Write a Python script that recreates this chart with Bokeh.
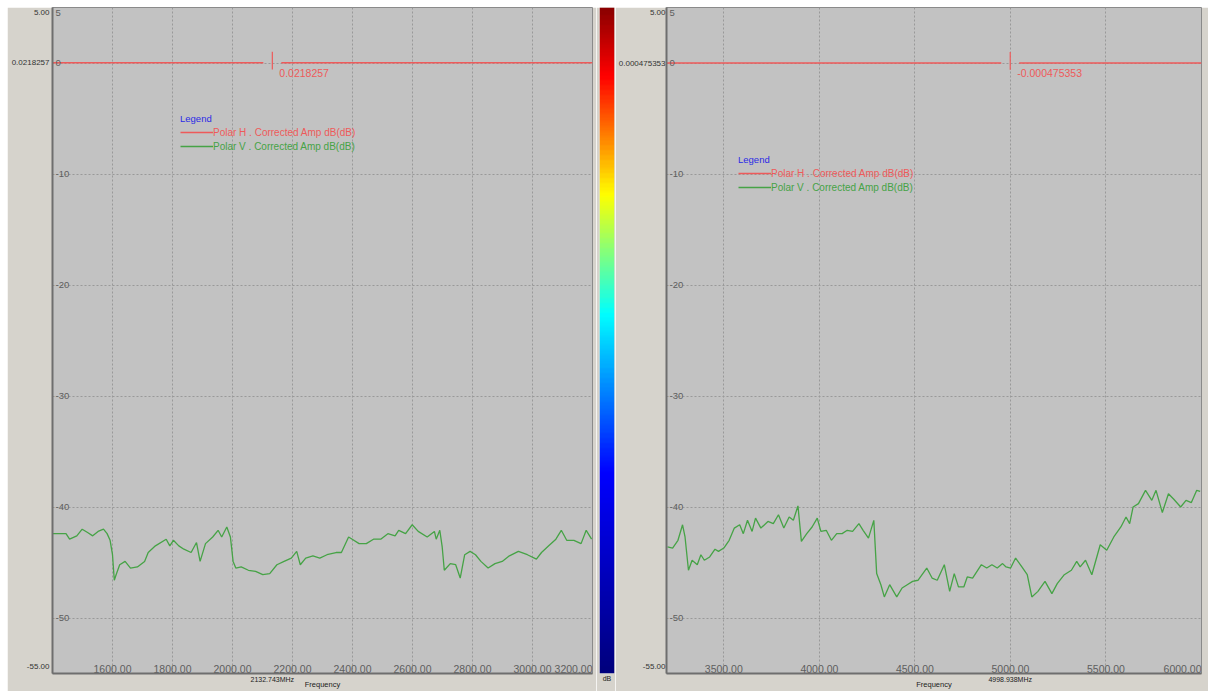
import numpy as np
from bokeh.plotting import figure
from bokeh.models import (Range1d, FixedTicker, Legend, LegendItem, LinearColorMapper,
                          ColumnDataSource, CustomJSTickFormatter, PrintfTickFormatter, Spacer)
from bokeh.layouts import row, column
from bokeh.embed import file_html
from bokeh.resources import INLINE
from bokeh.core.properties import value, field

# ---------------- data ----------------
left_freq = [1400, 1445, 1457, 1481, 1499, 1517, 1534, 1552, 1570, 1582, 1592, 1600, 1606, 1612,
             1624, 1642, 1660, 1683, 1707, 1719, 1743, 1779, 1791, 1803, 1821, 1838, 1862, 1880,
             1892, 1910, 1934, 1952, 1964, 1981, 1993, 2002, 2011, 2029, 2053, 2077, 2101, 2124,
             2148, 2172, 2196, 2214, 2226, 2244, 2268, 2291, 2315, 2345, 2363, 2387, 2399, 2422,
             2446, 2470, 2494, 2518, 2542, 2554, 2577, 2599, 2619, 2649, 2673, 2679, 2691, 2699,
             2706, 2726, 2744, 2759, 2774, 2792, 2810, 2828, 2852, 2875, 2899, 2923, 2953, 2983,
             3013, 3030, 3054, 3078, 3096, 3114, 3138, 3162, 3179, 3197]
left_polar_v = [-42.4, -42.4, -42.9, -42.6, -42.0, -42.3, -42.6, -42.2, -42.0, -42.4, -43.0, -44.3,
                -46.6, -46.1, -45.2, -44.9, -45.5, -45.4, -44.9, -44.1, -43.5, -42.9, -43.5, -43.0,
                -43.5, -43.8, -44.1, -43.2, -44.9, -43.3, -42.7, -42.1, -42.7, -41.8, -42.7, -44.9,
                -45.5, -45.4, -45.7, -45.8, -46.1, -46.0, -45.2, -44.9, -44.6, -44.0, -45.2, -44.6,
                -44.4, -44.6, -44.3, -44.1, -44.1, -42.7, -42.9, -43.3, -43.3, -42.9, -42.9, -42.4,
                -42.6, -42.1, -42.4, -41.6, -42.2, -42.7, -42.2, -42.9, -42.1, -43.6, -45.7, -45.1,
                -45.2, -46.4, -44.3, -44.0, -44.3, -44.9, -45.5, -45.1, -44.9, -44.4, -44.0, -44.3,
                -44.7, -44.1, -43.5, -42.9, -42.1, -43.0, -43.0, -43.3, -42.1, -42.9]
left_polar_h = 0.0218257
left_marker = 2132.743

right_freq = [3205, 3232, 3260, 3284, 3297, 3315, 3334, 3361, 3380, 3398, 3426, 3454, 3472, 3500,
              3528, 3555, 3583, 3602, 3624, 3648, 3666, 3694, 3731, 3759, 3786, 3814, 3842, 3864,
              3888, 3906, 3934, 3962, 3989, 4008, 4036, 4063, 4091, 4119, 4146, 4174, 4207, 4229,
              4257, 4285, 4300, 4322, 4340, 4368, 4405, 4433, 4460, 4488, 4516, 4562, 4590, 4617,
              4654, 4682, 4706, 4728, 4756, 4774, 4802, 4848, 4876, 4903, 4931, 4959, 4977, 5001,
              5027, 5060, 5088, 5112, 5144, 5181, 5217, 5245, 5282, 5319, 5347, 5365, 5393, 5426,
              5470, 5504, 5541, 5578, 5605, 5624, 5642, 5670, 5707, 5740, 5762, 5795, 5827, 5855,
              5891, 5919, 5947, 5975, 5993]
right_polar_v = [-43.6, -43.7, -43.0, -41.6, -42.7, -45.7, -44.8, -45.2, -44.3, -44.8, -44.5, -43.8,
                 -44.0, -43.7, -43.0, -41.9, -41.6, -42.4, -41.2, -42.2, -41.0, -41.9, -41.3, -41.5,
                 -40.7, -41.9, -40.9, -41.2, -39.9, -43.1, -42.4, -41.8, -41.0, -42.2, -42.1, -43.0,
                 -42.4, -42.4, -42.1, -42.2, -41.5, -42.1, -42.8, -41.2, -46.0, -47.0, -48.1, -47.0,
                 -48.1, -47.3, -47.0, -46.7, -46.6, -45.5, -46.4, -46.6, -45.2, -47.6, -46.0, -47.2,
                 -47.2, -46.3, -46.4, -45.2, -45.5, -45.2, -45.5, -45.1, -45.4, -45.5, -44.6, -45.4,
                 -46.1, -48.1, -47.6, -46.7, -47.8, -46.9, -46.1, -45.7, -44.9, -45.4, -44.8, -46.1,
                 -43.4, -43.9, -42.7, -41.8, -40.9, -41.5, -40.0, -39.7, -38.5, -39.4, -38.5, -40.5,
                 -38.8, -39.3, -40.0, -39.4, -39.6, -38.5, -38.6]
right_polar_h = -0.000475353
right_marker = 4998.938

left_xticks = [1600, 1800, 2000, 2200, 2400, 2600, 2800, 3000, 3200]
right_xticks = [3500, 4000, 4500, 5000, 5500, 6000]
yticks = [5, 0, -10, -20, -30, -40, -50]
y_limits = (-55, 5)
left_xlim = (1400, 3200)
right_xlim = (3200, 6000)

left_outer_labels = ["5.00", "0.0218257", "-55.00"]
right_outer_labels = ["5.00", "0.000475353", "-55.00"]
left_marker_text = "0.0218257"
right_marker_text = "-0.000475353"
name_h = "Polar H . Corrected Amp dB(dB)"
name_v = "Polar V . Corrected Amp dB(dB)"
axis_title = "Frequency"
colorbar_unit = "dB"

# ---------------- style ----------------
FONT = "Liberation Sans"
PLOT_BG = "#c2c2c2"
MARGIN_BG = "#d6d3cc"
RED = "#ee5a5a"
GREEN = "#46a346"
GRID = "#999999"
TICK_TXT = "#5e5e5e"
FIG_H = 684
BOTTOM = 14
FRAME_H = FIG_H - BOTTOM


def jet_palette(n=256):
    stops = [(0.0, (0, 0, 125)), (0.30, (0, 0, 255)), (0.42, (0, 128, 255)),
             (0.54, (0, 255, 255)), (0.63, (128, 255, 128)), (0.72, (255, 255, 0)),
             (0.80, (255, 140, 0)), (0.90, (255, 0, 0)), (1.0, (140, 0, 0))]
    pos = np.array([s[0] for s in stops])
    cols = np.array([s[1] for s in stops], dtype=float)
    out = []
    for ti in np.linspace(0, 1, n):
        r, g, b = (np.interp(ti, pos, cols[:, k]) for k in range(3))
        out.append("#%02x%02x%02x" % (int(r), int(g), int(b)))
    return out


NEAREST_JS = """
let best = 0; let d = Infinity;
for (let i = 0; i < vals.length; i++) {
  const e = Math.abs(vals[i] - tick);
  if (e < d) { d = e; best = i; }
}
return labels[best];
"""


def make_panel(freq, polar_v, polar_h, marker, marker_text, xlim, xticks, outer_labels,
               width, border_left, border_right, legend_left, legend_top, outer_standoff):
    p = figure(width=width, height=FIG_H, output_backend="svg", toolbar_location=None,
               x_range=Range1d(*xlim), y_range=Range1d(*y_limits),
               min_border_left=border_left, min_border_right=border_right,
               min_border_top=0, min_border_bottom=BOTTOM)
    p.background_fill_color = PLOT_BG
    p.border_fill_color = MARGIN_BG
    p.outline_line_color = "#8a8a8a"

    px_per_unit = FRAME_H / (y_limits[1] - y_limits[0])
    # outer labels on the left axis: top edge, Polar H level, bottom edge
    outer_pos = [y_limits[1] - 5.5 / px_per_unit, polar_h, y_limits[0] + 7 / px_per_unit]
    yax = p.yaxis[0]
    yax.ticker = FixedTicker(ticks=outer_pos)
    yax.formatter = CustomJSTickFormatter(args=dict(vals=outer_pos, labels=outer_labels),
                                          code=NEAREST_JS)
    yax.major_label_text_font = FONT
    yax.major_label_text_font_size = "8px"
    yax.major_label_text_color = "#333333"
    yax.major_label_standoff = outer_standoff

    # bottom axis: marker frequency and axis title
    xax = p.xaxis[0]
    xax.ticker = FixedTicker(ticks=[marker])
    xax.formatter = PrintfTickFormatter(format="%.3fMHz")
    xax.major_label_text_font = FONT
    xax.major_label_text_font_size = "7px"
    xax.major_label_text_color = "#222222"
    xax.major_label_standoff = 2
    xax.axis_label = axis_title
    xax.axis_label_text_font = FONT
    xax.axis_label_text_font_size = "7.5px"
    xax.axis_label_text_font_style = "normal"
    xax.axis_label_text_color = "#222222"
    xax.axis_label_standoff = -6

    for ax in (xax, yax):
        ax.major_tick_line_color = None
        ax.major_tick_out = 0
        ax.major_tick_in = 0
        ax.minor_tick_line_color = None
        ax.minor_tick_out = 0
        ax.axis_line_color = "#6e6e6e"
        ax.axis_line_width = 2

    p.xgrid.ticker = FixedTicker(ticks=xticks)
    p.ygrid.ticker = FixedTicker(ticks=yticks)
    for g in (p.xgrid, p.ygrid):
        g.grid_line_color = GRID
        g.grid_line_dash = "2 2"
        g.grid_line_width = 1

    span = xlim[1] - xlim[0]
    frame_w = width - border_left - border_right
    gap = 9 * span / frame_w

    # Polar H (flat) with marker gap
    h_seg = p.segment(x0=[xlim[0], marker + gap], x1=[marker - gap, xlim[1]],
                      y0=[polar_h, polar_h], y1=[polar_h, polar_h],
                      line_color=RED, line_width=1.5)
    p.segment(x0=[marker], x1=[marker], y0=[polar_h + 1.0], y1=[polar_h - 0.6],
              line_color=RED, line_width=1.2)
    p.text(x=[marker], y=[polar_h], text=[marker_text], x_offset=7, y_offset=6,
           text_font=value(FONT), text_font_size="10.5px", text_color=RED,
           text_baseline="top", text_align="left")

    # Polar V
    v_line = p.line(freq, polar_v, line_color=GREEN, line_width=1.3)

    # inner y tick labels (the one at the top edge is kept inside)
    is_top = [t >= y_limits[1] for t in yticks]
    ysrc = ColumnDataSource(dict(
        x=[xlim[0]] * len(yticks), y=yticks, text=[str(t) for t in yticks],
        bl=["top" if tp else "middle" for tp in is_top],
        yo=[2 if tp else 0 for tp in is_top]))
    p.text(x="x", y="y", text="text", source=ysrc, x_offset=3, y_offset=field("yo"),
           text_baseline=field("bl"), text_align="left",
           text_font=value(FONT), text_font_size="9.5px", text_color=TICK_TXT)
    # inner x tick labels (the one at the right edge is kept inside)
    xsrc = ColumnDataSource(dict(x=xticks, y=[y_limits[0]] * len(xticks),
                                 text=["%.2f" % t for t in xticks],
                                 al=["right" if t >= xlim[1] else "center" for t in xticks]))
    p.text(x="x", y="y", text="text", source=xsrc, y_offset=-1, x_offset=0,
           text_baseline="bottom", text_align=field("al"),
           text_font=value(FONT), text_font_size="10.5px", text_color=TICK_TXT)

    # legends (two, so each label gets its series colour)
    h1 = 26
    leg1 = Legend(items=[LegendItem(label=name_h, renderers=[h_seg])],
                  location=(legend_left, FRAME_H - legend_top - h1),
                  title="Legend", title_text_color="#2a2ae6", title_text_font_size="9.5px",
                  title_text_font_style="normal", title_text_font=FONT, title_standoff=1,
                  label_text_color=RED)
    leg2 = Legend(items=[LegendItem(label=name_v, renderers=[v_line])],
                  location=(legend_left, FRAME_H - legend_top - h1 - 14),
                  label_text_color=GREEN)
    for lg in (leg1, leg2):
        lg.border_line_color = None
        lg.background_fill_alpha = 0
        lg.label_text_font = FONT
        lg.label_text_font_size = "10px"
        lg.glyph_width = 33
        lg.glyph_height = 14
        lg.label_height = 14
        lg.label_standoff = 0
        lg.padding = 0
        lg.margin = 0
        lg.spacing = 0
        p.add_layout(lg)
    return p


left = make_panel(left_freq, left_polar_v, left_polar_h, left_marker, left_marker_text,
                  left_xlim, left_xticks, left_outer_labels,
                  width=589, border_left=45, border_right=4, legend_left=128, legend_top=110,
                  outer_standoff=3)
right = make_panel(right_freq, right_polar_v, right_polar_h, right_marker, right_marker_text,
                   right_xlim, right_xticks, right_outer_labels,
                   width=593, border_left=48, border_right=7, legend_left=72, legend_top=151,
                   outer_standoff=1)

# colour bar strip
cb = figure(width=19, height=FIG_H, output_backend="svg", toolbar_location=None,
            x_range=Range1d(0, 1), y_range=Range1d(*y_limits),
            y_axis_location=None,
            min_border_left=3, min_border_right=1, min_border_top=0, min_border_bottom=BOTTOM)
cb.border_fill_color = MARGIN_BG
cb.background_fill_color = MARGIN_BG
cb.outline_line_color = None
cb.grid.visible = False
cax = cb.xaxis[0]
cax.ticker = FixedTicker(ticks=[])
cax.major_label_text_font_size = "0px"
cax.major_label_standoff = 0
cax.major_tick_out = 0
cax.minor_tick_out = 0
cax.axis_line_color = None
cax.axis_label = colorbar_unit
cax.axis_label_text_font = FONT
cax.axis_label_text_font_size = "7px"
cax.axis_label_text_font_style = "normal"
cax.axis_label_text_color = "#222222"
cax.axis_label_standoff = 1
mapper = LinearColorMapper(palette=jet_palette(), low=y_limits[0], high=y_limits[1])
grad = np.linspace(y_limits[0], y_limits[1], 400).reshape(-1, 1)
cb.image(image=[grad], x=0, y=y_limits[0], dw=1, dh=y_limits[1] - y_limits[0], color_mapper=mapper)

layout = column(Spacer(height=7), row(Spacer(width=7), left, cb, right, spacing=0), spacing=0)
open("out.html", "w").write(file_html(layout, INLINE))
